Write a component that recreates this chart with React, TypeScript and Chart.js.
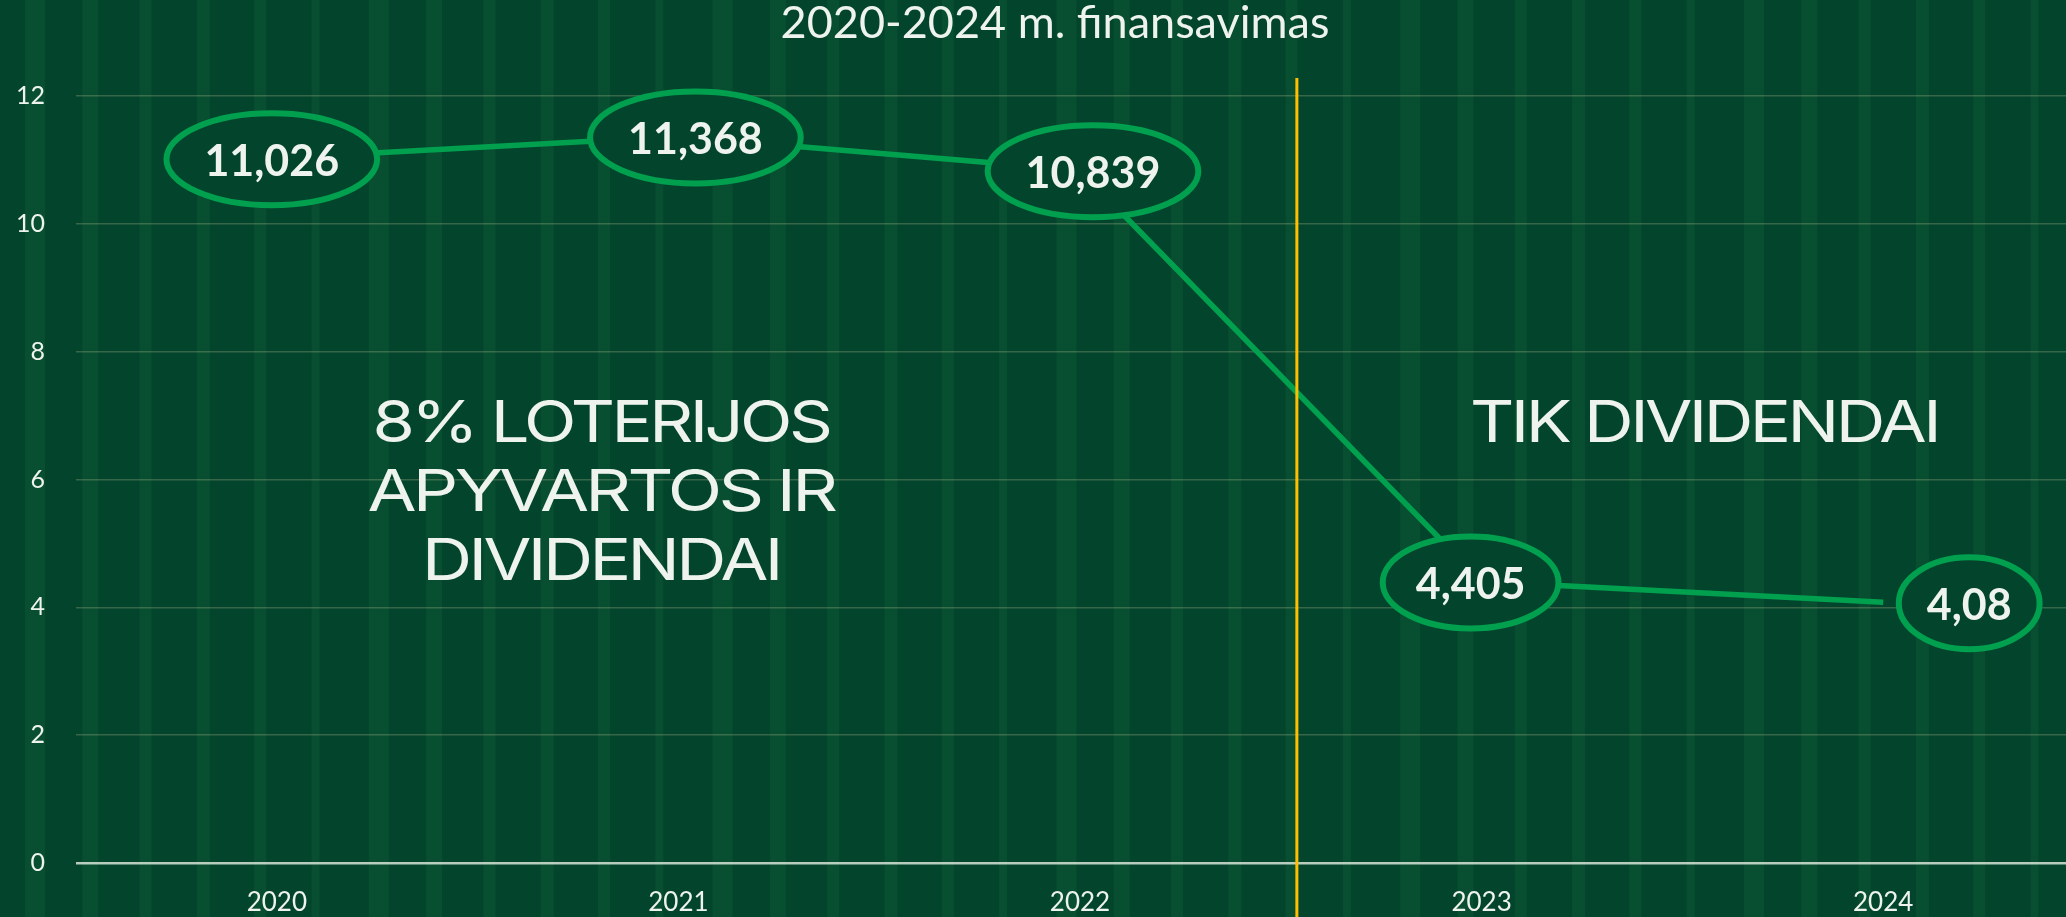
import React, { useEffect, useRef } from "react";
import { Chart, registerables } from "chart.js";

Chart.register(...registerables);

// ---------- data ----------
const categories = ["2020", "2021", "2022", "2023", "2024"];
const fundingValues = [11.026, 11.368, 10.839, 4.405, 4.08];
const valueLabels = ["11,026", "11,368", "10,839", "4,405", "4,08"];
const yTickValues = [0, 2, 4, 6, 8, 10, 12];
const chartTitle = "2020-2024 m. finansavimas";
const leftNoteLines = ["8% LOTERIJOS", "APYVARTOS IR", "DIVIDENDAI"];
const rightNoteLines = ["TIK DIVIDENDAI"];

// ---------- styles ----------
const BG = "#03452C";
const STRIPE = "rgba(14,104,60,0.32)";
const LINE_GREEN = "#00A04F";
const TEXT = "#EEF3EE";
const GOLD = "#FFBF00";

const decorPlugin = {
  id: "decor",
  beforeDraw(chart: any) {
    const { ctx, width, height } = chart;
    ctx.save();
    ctx.fillStyle = BG;
    ctx.fillRect(0, 0, width, height);
    ctx.fillStyle = STRIPE;
    const widths = [20, 16, 12, 13, 12, 8];
    let i = 0;
    for (let x = 25; x < width; x += 57.3) {
      ctx.fillRect(x, 0, widths[i % widths.length], height);
      i++;
    }
    ctx.restore();
  },
  afterDatasetsDraw(chart: any) {
    const { ctx, chartArea } = chart;
    const xs = chart.scales.x;
    const ys = chart.scales.y;
    const step = xs.getPixelForValue(1) - xs.getPixelForValue(0);

    // divider line between periods
    const divX = xs.getPixelForValue(2) + 0.54 * step;
    ctx.save();
    ctx.strokeStyle = GOLD;
    ctx.lineWidth = 3;
    ctx.beginPath();
    ctx.moveTo(divX, chartArea.top - 18);
    ctx.lineTo(divX, chart.height);
    ctx.stroke();
    ctx.restore();

    // ellipse value labels
    const offsets = [-5, 17, 13, -11, 86];
    const meta = chart.getDatasetMeta(0);
    ctx.save();
    ctx.font = "700 43px Lato";
    meta.data.forEach((pt: any, i: number) => {
      const label = valueLabels[i];
      const tw = ctx.measureText(label).width;
      const cx = pt.x + offsets[i];
      const cy = pt.y + 1;
      const rx = 0.7 * tw + 14 - 3;
      const ry = 46;
      ctx.beginPath();
      ctx.ellipse(cx, cy, rx, ry, 0, 0, Math.PI * 2);
      ctx.fillStyle = BG;
      ctx.fill();
      ctx.lineWidth = 6;
      ctx.strokeStyle = LINE_GREEN;
      ctx.stroke();
      ctx.fillStyle = TEXT;
      ctx.textAlign = "center";
      ctx.textBaseline = "alphabetic";
      ctx.fillText(label, cx, cy + 17);
    });
    ctx.restore();

    // big notes
    const drawFitted = (text: string, cx: number, baseY: number, size: number, targetW: number) => {
      ctx.save();
      ctx.font = `400 ${size}px Inter`;
      try {
        (ctx as any).letterSpacing = "-3px";
      } catch (e) {}
      const w = ctx.measureText(text).width;
      ctx.translate(cx, baseY);
      ctx.scale(targetW / w, 1);
      ctx.fillStyle = TEXT;
      ctx.textAlign = "center";
      ctx.textBaseline = "alphabetic";
      ctx.fillText(text, 0, 0);
      ctx.restore();
    };
    const x0 = xs.getPixelForValue(0);
    const leftCx = x0 + 0.807 * step;
    const leftWidths = [457, 467, 358];
    leftNoteLines.forEach((t, i) => {
      drawFitted(t, leftCx, ys.getPixelForValue(6.92) + 21 + i * 69, 58, leftWidths[i]);
    });
    const rightCx = x0 + 3.554 * step;
    rightNoteLines.forEach((t, i) => {
      drawFitted(t, rightCx, ys.getPixelForValue(6.92) + 21 + i * 69, 58, 468);
    });

    // title
    ctx.save();
    ctx.font = "400 32px Lato";
    const tw = ctx.measureText(chartTitle).width;
    const size = (32 * 549) / tw;
    ctx.font = `400 ${size}px Lato`;
    ctx.fillStyle = TEXT;
    ctx.textAlign = "center";
    ctx.textBaseline = "alphabetic";
    ctx.fillText(chartTitle, 1055, 38);
    ctx.restore();
  },
};

export default function App() {
  const canvasRef = useRef<HTMLCanvasElement | null>(null);

  useEffect(() => {
    const canvas = canvasRef.current;
    if (!canvas) return;
    const chart = new Chart(canvas, {
      type: "line",
      data: {
        labels: categories,
        datasets: [
          {
            data: fundingValues,
            borderColor: LINE_GREEN,
            borderWidth: 5.5,
            pointRadius: 0,
            tension: 0,
            fill: false,
          },
        ],
      },
      options: {
        responsive: false,
        animation: false,
        devicePixelRatio: 1,
        layout: { padding: { top: 96, right: 16, left: 0, bottom: 0 } },
        plugins: {
          legend: { display: false },
          tooltip: { enabled: false },
          title: { display: false },
        },
        scales: {
          x: {
            type: "category",
            offset: true,
            grid: { display: false, drawTicks: false },
            border: { display: false },
            ticks: {
              color: TEXT,
              font: { family: "Lato", size: 26 },
              padding: 24,
              maxRotation: 0,
            },
            afterFit: (s: any) => {
              s.height = 54;
            },
          },
          y: {
            min: 0,
            max: 12,
            afterBuildTicks: (s: any) => {
              s.ticks = yTickValues.map((v) => ({ value: v }));
            },
            ticks: {
              color: TEXT,
              font: { family: "Lato", size: 25 },
              padding: 31,
            },
            grid: {
              drawTicks: false,
              color: (c: any) =>
                c.tick && c.tick.value === 0 ? "rgba(215,228,215,0.85)" : "rgba(190,190,150,0.28)",
              lineWidth: (c: any) => (c.tick && c.tick.value === 0 ? 2.5 : 1.5),
            },
            border: { display: false },
            afterFit: (s: any) => {
              s.width = 76;
            },
          },
        },
      },
      plugins: [decorPlugin],
    } as any);
    return () => chart.destroy();
  }, []);

  return (
    <div
      style={{
        position: "fixed",
        left: 0,
        top: 0,
        width: 2066,
        height: 917,
        overflow: "hidden",
        background: BG,
      }}
    >
      <canvas ref={canvasRef} width={2100} height={917} style={{ display: "block" }} />
    </div>
  );
}
